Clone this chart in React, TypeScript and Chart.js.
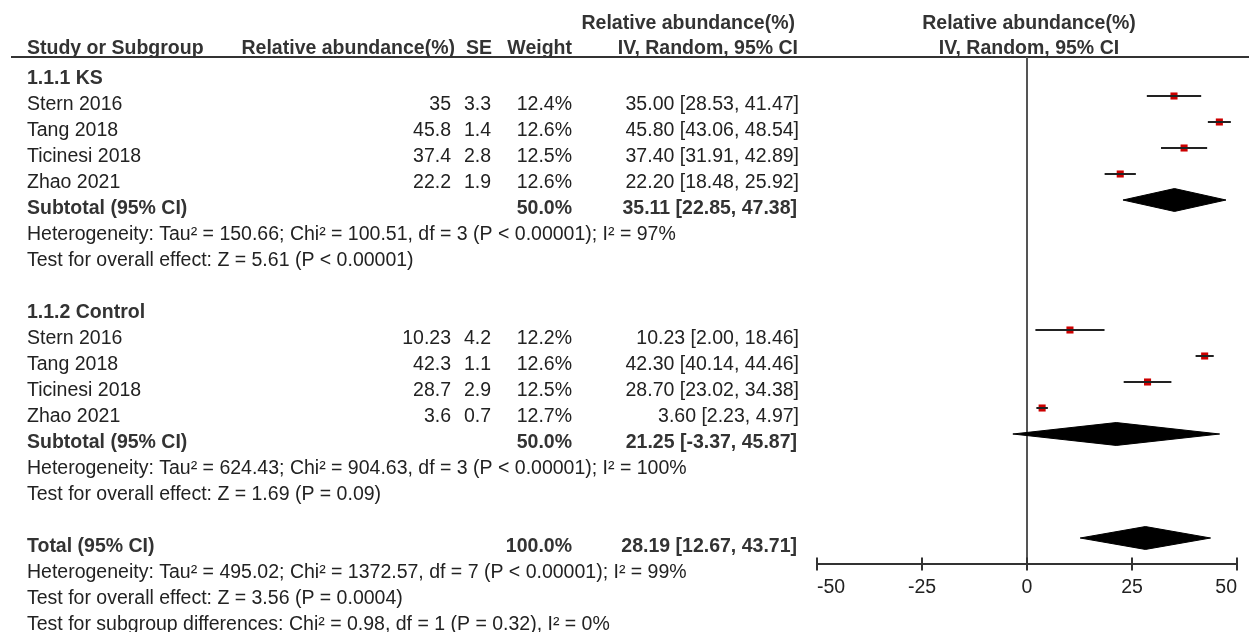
import React, { useEffect, useRef } from 'react';
import { Chart, registerables } from 'chart.js';

Chart.register(...registerables);

// ---------- data ----------
const ksStudies = ['Stern 2016', 'Tang 2018', 'Ticinesi 2018', 'Zhao 2021'];
const ksMean = [35, 45.8, 37.4, 22.2];
const ksSE = [3.3, 1.4, 2.8, 1.9];
const ksWeight = ['12.4%', '12.6%', '12.5%', '12.6%'];
const ksLow = [28.53, 43.06, 31.91, 18.48];
const ksHigh = [41.47, 48.54, 42.89, 25.92];

const ctlStudies = ['Stern 2016', 'Tang 2018', 'Ticinesi 2018', 'Zhao 2021'];
const ctlMean = [10.23, 42.3, 28.7, 3.6];
const ctlSE = [4.2, 1.1, 2.9, 0.7];
const ctlWeight = ['12.2%', '12.6%', '12.5%', '12.7%'];
const ctlLow = [2.0, 40.14, 23.02, 2.23];
const ctlHigh = [18.46, 44.46, 34.38, 4.97];

const summaryLabels = ['Subtotal (95% CI)', 'Subtotal (95% CI)', 'Total (95% CI)'];
const summaryWeight = ['50.0%', '50.0%', '100.0%'];
const summaryEst = [35.11, 21.25, 28.19];
const summaryLow = [22.85, -3.37, 12.67];
const summaryHigh = [47.38, 45.87, 43.71];

const groupLabels = ['1.1.1 KS', '1.1.2 Control'];
const statLines = [
  'Heterogeneity: Tau² = 150.66; Chi² = 100.51, df = 3 (P < 0.00001); I² = 97%',
  'Test for overall effect: Z = 5.61 (P < 0.00001)',
  'Heterogeneity: Tau² = 624.43; Chi² = 904.63, df = 3 (P < 0.00001); I² = 100%',
  'Test for overall effect: Z = 1.69 (P = 0.09)',
  'Heterogeneity: Tau² = 495.02; Chi² = 1372.57, df = 7 (P < 0.00001); I² = 99%',
  'Test for overall effect: Z = 3.56 (P = 0.0004)',
  'Test for subgroup differences: Chi² = 0.98, df = 1 (P = 0.32), I² = 0%',
];
const xTicks = [-50, -25, 0, 25, 50];

// row indices (layout of the table)
const ksRows = [0, 1, 2, 3];
const ctlRows = [9, 10, 11, 12];
const summaryRows = [4, 13, 17];
const groupRows = [-1, 8];
const statRows = [5, 6, 14, 15, 18, 19, 20];

const FONT = "'Liberation Sans', Arial, sans-serif";
const FS = 19.5;
const TXT = '#222';

const fmt = (v: number) => v.toFixed(2);
const ciText = (e: number, l: number, h: number) => `${fmt(e)} [${fmt(l)}, ${fmt(h)}]`;

const forestPlugin = {
  id: 'forestDecor',
  beforeDatasetsDraw(chart: any) {
    const { ctx, scales } = chart;
    const xs = scales.x;
    const ys = scales.y;
    const top = ys.getPixelForValue(-1.5);
    const bottom = ys.getPixelForValue(18);
    ctx.save();
    // header rule
    ctx.strokeStyle = '#333';
    ctx.lineWidth = 2;
    ctx.beginPath();
    ctx.moveTo(11, top);
    ctx.lineTo(chart.width, top);
    ctx.stroke();
    // zero line
    ctx.strokeStyle = '#555';
    ctx.beginPath();
    ctx.moveTo(xs.getPixelForValue(0), top);
    ctx.lineTo(xs.getPixelForValue(0), bottom);
    ctx.stroke();
    // x axis
    ctx.strokeStyle = '#333';
    ctx.beginPath();
    ctx.moveTo(xs.getPixelForValue(xTicks[0]), bottom);
    ctx.lineTo(xs.getPixelForValue(xTicks[xTicks.length - 1]), bottom);
    ctx.stroke();
    ctx.fillStyle = TXT;
    ctx.font = `${FS}px ${FONT}`;
    ctx.textBaseline = 'middle';
    xTicks.forEach((t, i) => {
      const px = xs.getPixelForValue(t);
      ctx.beginPath();
      ctx.moveTo(px, bottom - 6.5);
      ctx.lineTo(px, bottom + 6.5);
      ctx.stroke();
      ctx.textAlign = i === 0 ? 'left' : i === xTicks.length - 1 ? 'right' : 'center';
      ctx.fillText(String(t), px, bottom + 24);
    });
    ctx.restore();
  },
  afterDraw(chart: any) {
    const { ctx, scales } = chart;
    const xs = scales.x;
    const ys = scales.y;
    const rowY = (r: number) => ys.getPixelForValue(r) + 9;
    const reg = `${FS}px ${FONT}`;
    const bold = `bold ${FS}px ${FONT}`;
    const put = (s: string, x: number, y: number, align: CanvasTextAlign, b = false, color = TXT) => {
      ctx.font = b ? bold : reg;
      ctx.textAlign = align;
      ctx.fillStyle = color;
      ctx.fillText(s, x, y);
    };
    ctx.save();
    ctx.textBaseline = 'middle';
    const nameX = 27;
    const meanR = 451;
    const seR = 491;
    const wR = 572;
    const ciR = 799;
    const hdr = '#333';
    // headers
    const h2 = ys.getPixelForValue(-1.5) - 8;
    const h1 = h2 - 25;
    put('Study or Subgroup', nameX, h2, 'left', true, hdr);
    put('Relative abundance(%)', 455, h2, 'right', true, hdr);
    put('SE', 492, h2, 'right', true, hdr);
    put('Weight', 572, h2, 'right', true, hdr);
    put('Relative abundance(%)', 795, h1, 'right', true, hdr);
    put('IV, Random, 95% CI', 798, h2, 'right', true, hdr);
    const pc = xs.getPixelForValue(0) + 2;
    put('Relative abundance(%)', pc, h1, 'center', true, hdr);
    put('IV, Random, 95% CI', pc, h2, 'center', true, hdr);
    // groups
    groupLabels.forEach((g, i) => put(g, nameX, rowY(groupRows[i]), 'left', true, hdr));
    // studies
    const drawStudy = (names: string[], mean: number[], se: number[], w: string[], lo: number[], hi: number[], rows: number[]) => {
      names.forEach((n, i) => {
        const y = rowY(rows[i]);
        put(n, nameX, y, 'left');
        put(String(mean[i]), meanR, y, 'right');
        put(String(se[i]), seR, y, 'right');
        put(w[i], wR, y, 'right');
        put(ciText(mean[i], lo[i], hi[i]), ciR, y, 'right');
      });
    };
    drawStudy(ksStudies, ksMean, ksSE, ksWeight, ksLow, ksHigh, ksRows);
    drawStudy(ctlStudies, ctlMean, ctlSE, ctlWeight, ctlLow, ctlHigh, ctlRows);
    // summaries
    summaryLabels.forEach((s, i) => {
      const y = rowY(summaryRows[i]);
      put(s, nameX, y, 'left', true, hdr);
      put(summaryWeight[i], wR, y, 'right', true, hdr);
      put(ciText(summaryEst[i], summaryLow[i], summaryHigh[i]), ciR - 2, y, 'right', true, hdr);
    });
    // stats
    statLines.forEach((s, i) => put(s, nameX, rowY(statRows[i]), 'left'));
    ctx.restore();
  },
};

export default function App() {
  const ref = useRef<HTMLCanvasElement | null>(null);
  useEffect(() => {
    if (!ref.current) return;
    const datasets: any[] = [];
    const addWhiskers = (lo: number[], hi: number[], rows: number[]) => {
      lo.forEach((l, i) => {
        datasets.push({
          data: [{ x: l, y: rows[i] }, { x: hi[i], y: rows[i] }],
          showLine: true,
          borderColor: '#222',
          borderWidth: 2,
          pointRadius: 0,
          fill: false,
        });
      });
    };
    addWhiskers(ksLow, ksHigh, ksRows);
    addWhiskers(ctlLow, ctlHigh, ctlRows);
    datasets.push({
      data: [
        ...ksMean.map((m, i) => ({ x: m, y: ksRows[i] })),
        ...ctlMean.map((m, i) => ({ x: m, y: ctlRows[i] })),
      ],
      showLine: false,
      pointStyle: 'rect',
      pointRadius: 5,
      backgroundColor: '#cc0000',
      borderColor: '#cc0000',
      borderWidth: 0,
    });
    const dh = 0.44;
    summaryEst.forEach((e, i) => {
      const r = summaryRows[i];
      datasets.push({
        data: [
          { x: summaryLow[i], y: r },
          { x: e, y: r - dh },
          { x: summaryHigh[i], y: r },
          { x: e, y: r + dh },
          { x: summaryLow[i], y: r },
        ],
        showLine: true,
        fill: 'shape',
        backgroundColor: '#000',
        borderColor: '#000',
        borderWidth: 1,
        pointRadius: 0,
        tension: 0,
      });
    });
    const chart = new Chart(ref.current, {
      type: 'scatter',
      data: { datasets },
      options: {
        animation: false,
        responsive: true,
        maintainAspectRatio: false,
        layout: { padding: { left: 817, right: 12, top: 57, bottom: 68 } },
        plugins: { legend: { display: false }, tooltip: { enabled: false } },
        scales: {
          x: { type: 'linear', min: -50, max: 50, display: false },
          y: { type: 'linear', min: -1.5, max: 18, reverse: true, display: false },
        },
      },
      plugins: [forestPlugin],
    });
    return () => chart.destroy();
  }, []);
  return (
    <div style={{ position: 'fixed', left: 0, top: 0, width: 1249, height: 632, background: '#fff' }}>
      <canvas ref={ref} />
    </div>
  );
}
